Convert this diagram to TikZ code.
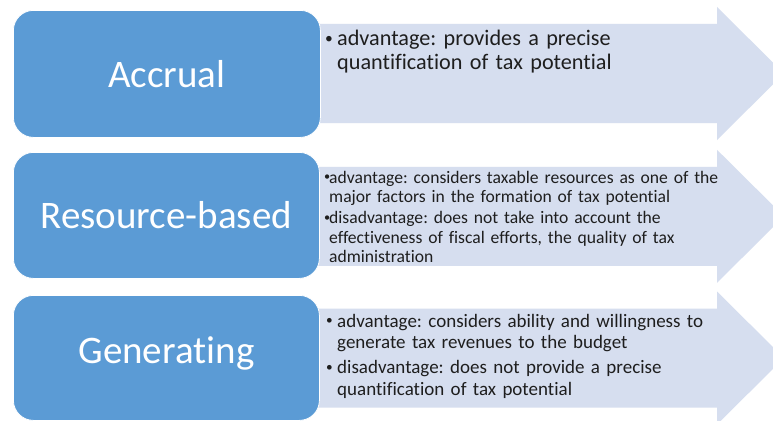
\documentclass[tikz,border=0pt]{standalone}
\usepackage{fontspec}
\setmainfont{Carlito}[Ligatures={NoCommon}]
\definecolor{boxblue}{HTML}{5B9BD5}
\definecolor{arrowfill}{HTML}{D6DEEF}
\definecolor{txt}{HTML}{1E1E1E}
\newcommand{\smallbul}{\raisebox{0.12em}{\scalebox{0.7}{\textbullet}}}
\newcommand{\bitem}[2]{\hangindent=#1\hangafter=1\noindent\makebox[#1][l]{\smallbul}#2\par}
\tikzset{
  catbox/.style={fill=boxblue, draw=white, line width=0.8pt, rounded corners=20pt},
  arrowshape/.style={fill=arrowfill, draw=none},
  catlabel/.style={text=white, font=\fontsize{39}{44}\selectfont, inner sep=0pt},
  bullets/.style={anchor=base west, inner sep=0pt, text=txt}
}
\begin{document}
\begin{tikzpicture}[x=1pt,y=-1pt]
\useasboundingbox (0,0) rectangle (773,420);
\fill[white] (0,0) rectangle (773,420);
% row arrows
\foreach \i/\dy in {1/0,2/142.8,3/284.5}{
  \fill[arrowshape] (305,24+\dy) -- (717,24+\dy) -- (717,7+\dy) -- (784,73.5+\dy)
     -- (717,140+\dy) -- (717,123+\dy) -- (305,123+\dy) -- cycle;
}
% boxes
\node[catbox, minimum width=307pt, minimum height=127pt, anchor=north west] (b1) at (13,10) {};
\node[catbox, minimum width=306pt, minimum height=126pt, anchor=north west] (b2) at (13,152) {};
\node[catbox, minimum width=306pt, minimum height=125pt, anchor=north west] (b3) at (13,295) {};
\node[catlabel] (l1) at (b1.center) {Accrual};
\node[catlabel] (l2) at (b2.center) {Resource-based};
\node[catlabel] (l3) at ([yshift=4pt]b3.center) {Generating};
% texts
\node[bullets, text width=420pt, font=\fontsize{22.2}{24}\selectfont] (t1) at (325,46) {%
  \raggedright\frenchspacing
  \bitem{12pt}{advantage: provides a precise\newline quantification of tax potential}};
\node[bullets, text width=440pt, font=\fontsize{17.6}{19.5}\selectfont] (t2) at (324,183) {%
  \raggedright\frenchspacing
  \bitem{5pt}{advantage: considers taxable resources as one of the\newline major factors in the formation of tax potential}%
  \vspace{1.5pt}%
  \bitem{5pt}{disadvantage: does not take into account the\newline effectiveness of fiscal efforts, the quality of tax\newline administration}};
\node[bullets, text width=440pt, font=\fontsize{19}{21.5}\selectfont] (t3) at (326,327) {%
  \raggedright\frenchspacing
  \bitem{11pt}{advantage: considers ability and willingness to\newline generate tax revenues to the budget}%
  \vspace{3.5pt}%
  \bitem{11pt}{disadvantage: does not provide a precise\newline quantification of tax potential}};
\end{tikzpicture}
\end{document}
